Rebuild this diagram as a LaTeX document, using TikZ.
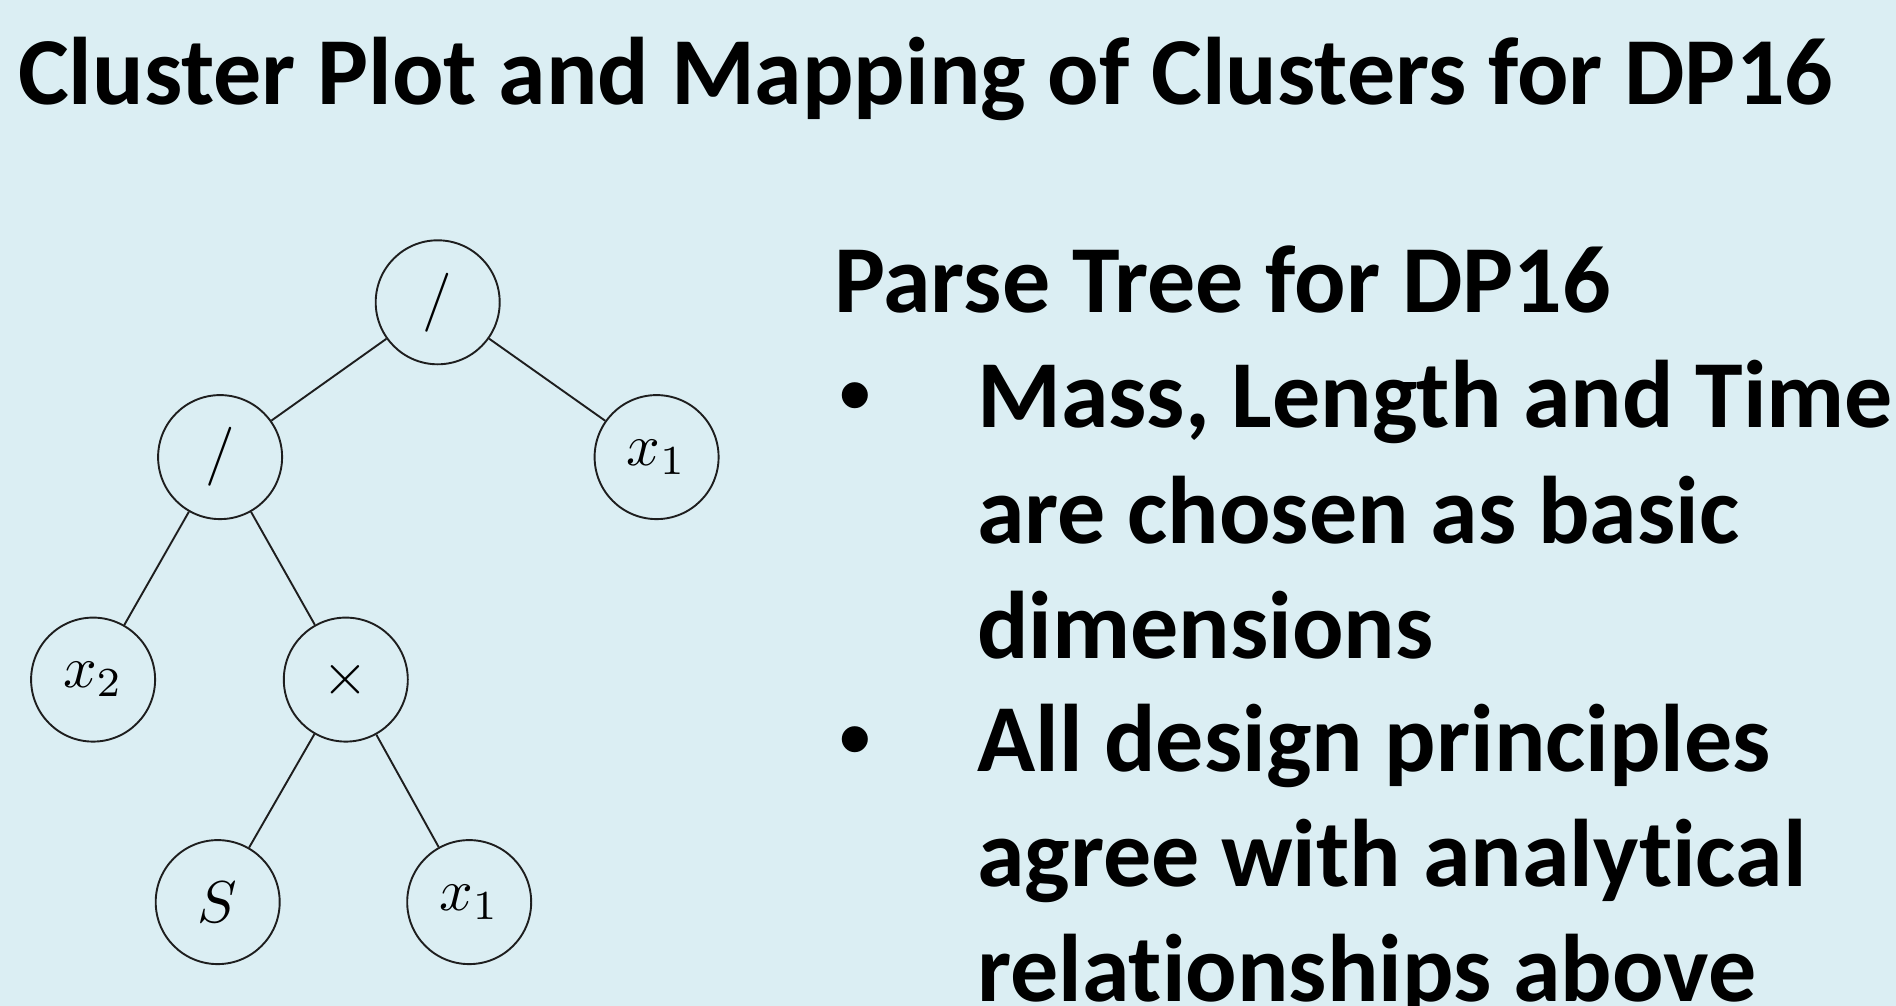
\documentclass[tikz,border=0pt]{standalone}
\usepackage{graphicx}
\usepackage[no-math]{fontspec}
\setmainfont{Carlito}[Ligatures=NoCommon]
\newfontfamily\bulletfont{Liberation Sans}
\definecolor{bg}{RGB}{219,238,243}
\definecolor{ink}{RGB}{30,30,30}
\newcommand{\treelabel}[1]{\scalebox{5.9}{$#1$}}
\begin{document}
\begin{tikzpicture}[x=1pt,y=-1pt,
  tnode/.style={draw=ink, line width=1.9pt, circle, minimum size=124pt, inner sep=0pt, font=\normalsize},
  edge/.style={draw=ink, line width=1.9pt},
  txt/.style={anchor=base west, inner sep=0pt, font=\fontsize{96}{115}\selectfont\bfseries},
  bul/.style={anchor=base west, inner sep=0pt, font=\fontsize{96}{115}\selectfont\bulletfont},
  ttl/.style={anchor=base west, inner sep=0pt, font=\fontsize{96}{120}\selectfont\bfseries}]
\fill[bg] (0,0) rectangle (1896,1006);
\useasboundingbox (0,0) rectangle (1896,1006);
% title
\node[ttl] (title) at (18,105) {Cluster Plot and Mapping of Clusters for DP16};
% tree
\node[tnode] (root) at (437.7,302.3) {\treelabel{/}};
\node[tnode] (L) at (220.1,457.1) {\treelabel{/}};
\node[tnode] (R) at (656.6,457.1) {\treelabel{x_1}};
\node[tnode] (x2) at (93.1,679.6) {\treelabel{x_2}};
\node[tnode] (times) at (345.8,679.6) {\treelabel{\times}};
\node[tnode] (S) at (217.7,902.1) {\treelabel{S}};
\node[tnode] (x1b) at (469.2,902.1) {\treelabel{x_1}};
\draw[edge] (root) -- (L);
\draw[edge] (root) -- (R);
\draw[edge] (L) -- (x2);
\draw[edge] (L) -- (times);
\draw[edge] (times) -- (S);
\draw[edge] (times) -- (x1b);
% text
\node[txt] (head) at (834,312) {Parse Tree for DP16};
\node[bul] (b1) at (838,427) {•};
\node[txt] (l1) at (977,427) {Mass, Length and Time};
\node[txt] (l2) at (977,543) {are chosen as basic};
\node[txt] (l3) at (977,658) {dimensions};
\node[bul] (b2) at (838,771) {•};
\node[txt] (l4) at (977,771) {All design principles};
\node[txt] (l5) at (977,886) {agree with analytical};
\node[txt] (l6) at (977,1001) {relationships above};
\end{tikzpicture}
\end{document}
